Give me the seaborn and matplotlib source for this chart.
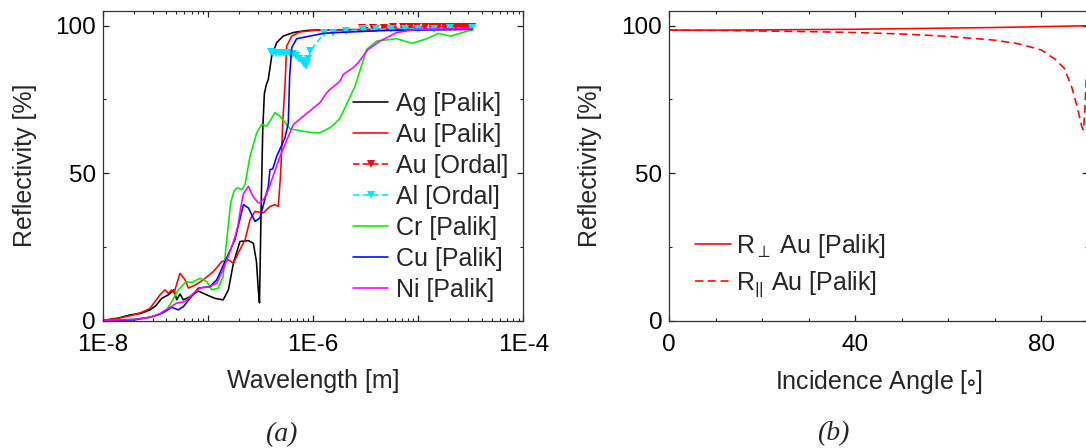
import numpy as np
import pandas as pd
import matplotlib
matplotlib.use("Agg")
import matplotlib.pyplot as plt
from matplotlib.ticker import MultipleLocator, LogLocator, FuncFormatter, NullFormatter
import seaborn as sns

# ---------------- data (wavelength in nm, reflectivity in %) ----------------
ag_wl = [10, 14, 18.2, 23, 28.2, 32, 36.5, 42.1, 47.7, 50.6, 54.4, 58.5, 67.7, 81.2, 97.6, 117, 140, 157, 175, 202, 243, 271, 290, 302, 310, 322, 333, 345, 360, 376, 405, 452, 522, 650, 871, 1165, 5000, 32700]
ag_r = [0, 0.8, 1.9, 2.4, 3.6, 5.0, 7.5, 8.7, 10.4, 7, 9, 7, 8.1, 10, 8.7, 7.5, 7, 10.4, 19.4, 26.8, 27.1, 26.2, 20, 10.4, 6, 40, 65, 77, 80, 81.8, 89.7, 94.3, 96.5, 97.7, 98.4, 98.6, 98.7, 98.8]

au_wl = [10, 14, 19.6, 24, 28.2, 35.1, 39.2, 42.1, 45.4, 47.7, 54.4, 60.7, 65.3, 75.6, 90.6, 113, 136, 157, 175, 202, 226, 252, 281, 337, 390, 435, 468, 493, 515, 542, 562, 628, 752, 1165, 5000, 32700]
au_r = [0, 0.7, 1.9, 2.9, 4.1, 8.7, 10.4, 9.2, 10.4, 9.3, 16, 13.8, 11, 12, 13.8, 16.6, 20, 20.6, 19.4, 24, 27.4, 34.2, 37, 36.5, 38.7, 39.3, 38.7, 50, 67, 80, 93.1, 96.5, 97.9, 98.6, 98.8, 99.0]

au_ordal_wl = [2920, 3710, 4680, 5780, 7200, 8400, 9800, 11600, 13400, 15400, 18000, 20500, 23000, 25600, 28000, 30000, 32400]
au_ordal_r = [99.3, 99.4, 99.4, 99.5, 99.5, 99.5, 99.6, 99.6, 99.6, 99.6, 99.7, 99.7, 99.7, 99.7, 99.7, 99.7, 99.7]

al_wl = [396, 420, 445, 470, 500, 530, 562, 600, 650, 690, 741, 780, 821, 852, 880, 902, 937, 1272, 1550, 2059, 3007, 4000, 5500, 7500, 10000, 14000, 20000, 32400]
al_r = [91.0, 90.9, 90.8, 90.8, 90.7, 90.6, 90.6, 90.5, 90.3, 89.7, 88.8, 88.0, 86.9, 86.3, 87.5, 88.6, 91.4, 97.4, 97.6, 98.2, 98.8, 98.8, 98.9, 99.0, 99.0, 99.0, 99.1, 99.1]

cr_wl = [10, 20, 28.2, 35, 40.7, 45.4, 52.4, 62.1, 70.3, 84.3, 97.6, 109, 126, 140, 150, 165, 178, 190, 210, 226, 252, 292, 325, 363, 435, 486, 605, 809, 1007, 1165, 1480, 1800, 2510, 3240, 4030, 6250, 8680, 12040, 15520, 20370, 32260]
cr_r = [0, 0.4, 1.1, 2.2, 3.6, 6.4, 10.4, 13.2, 12.9, 14.3, 13.2, 10.4, 11, 15, 26, 40, 44, 45, 44.4, 46.1, 55.7, 63.7, 66.5, 65.9, 70.5, 69.3, 65, 64.2, 63.7, 63.7, 65.6, 68.5, 79.5, 92, 94.8, 95.6, 94, 95.6, 97.4, 96.5, 98.6]

cu_wl = [10, 20, 28.2, 33, 37.8, 45.4, 52.4, 58.5, 67.7, 81.2, 105, 121.5, 145.7, 181, 218, 243, 281, 313, 376, 390, 414, 452, 542, 582, 600, 628, 700, 1253, 1680, 5000, 32700]
cu_r = [0, 0.2, 1.1, 1.8, 2.7, 4.5, 3.6, 4.7, 7.5, 11, 11.5, 13.8, 20, 27.4, 39.3, 38.2, 33.6, 34.8, 45.5, 51.2, 51.4, 55.7, 62, 67, 82.9, 92.6, 95.6, 97.4, 97.7, 98.4, 98.8]

ni_wl = [10, 20, 28.2, 35, 40.7, 50.6, 60.7, 72.8, 84.3, 105, 121.5, 140, 165, 180, 193, 205, 218, 243, 270, 300, 314, 345, 376, 486, 650, 809, 1165, 1350, 1451, 1806, 1941, 2415, 2695, 3240, 3355, 4335, 6250, 9676, 32260]
ni_r = [0, 0.4, 1.1, 2.3, 3.8, 5.9, 6.4, 9.2, 11, 11.5, 12.7, 17.2, 24, 28, 32, 38, 43, 45.5, 42, 40, 39.9, 41.5, 44.4, 55.7, 66.5, 69.3, 73.9, 77.3, 78.4, 81.2, 83.5, 85.8, 87.5, 91.4, 92, 94.8, 97.7, 98.8, 99]

# panel (b): incidence angle (deg) vs reflectivity (%)
ang_perp = [0, 10, 20, 30, 40, 50, 60, 70, 80, 85, 90]
r_perp = [98.5, 98.5, 98.6, 98.7, 98.8, 99.0, 99.2, 99.4, 99.7, 99.85, 100]
ang_par = [0, 10, 20, 30, 40, 50, 60, 70, 75, 80, 83, 85, 86.6, 87.7, 88.7, 89.1, 89.4, 89.7]
r_par = [98.5, 98.4, 98.2, 98.0, 97.7, 97.2, 96.4, 95.1, 93.9, 91.8, 88.6, 85.5, 79, 72.7, 66, 64.5, 72, 83]

labels_a = ["Ag [Palik]", "Au [Palik]", "Au [Ordal]", "Al [Ordal]", "Cr [Palik]", "Cu [Palik]", "Ni [Palik]"]
labels_b = [r"R$_{\perp}$ Au [Palik]", r"R$_{||}$ Au [Palik]"]

# ---------------- style ----------------
sns.set_style("ticks")
plt.rcParams["font.family"] = ["Liberation Sans", "DejaVu Sans"]
plt.rcParams["mathtext.fontset"] = "custom"
plt.rcParams["mathtext.rm"] = "Liberation Sans"
plt.rcParams["mathtext.it"] = "Liberation Sans"
plt.rcParams["mathtext.default"] = "regular"

FS_TICK = 17.5
FS_LAB = 18
FS_LEG = 18
W, H = 1086, 448
fig = plt.figure(figsize=(W / 100, H / 100), dpi=100)

def px_axes(l, t, r, b):
    return fig.add_axes([l / W, 1 - b / H, (r - l) / W, (b - t) / H])

ax1 = px_axes(102.6, 11, 523.4, 320.5)
ax2 = px_axes(669.3, 11, 1087.7, 320.5)

LW = 1.15
series = [
    (ag_wl, ag_r, "black", "-", None),
    (au_wl, au_r, "#ff0000", "-", None),
    (au_ordal_wl, au_ordal_r, "#ff0000", (0, (4, 2)), "v"),
    (al_wl, al_r, "#00e5ff", (0, (4, 2)), "v"),
    (cr_wl, cr_r, "#00ee00", "-", None),
    (cu_wl, cu_r, "#0000ff", "-", None),
    (ni_wl, ni_r, "#ff00ff", "-", None),
]
for (wl, r, c, ls, mk), lab in zip(series, labels_a):
    df = pd.DataFrame({"wl": np.array(wl) * 1e-9, "R": r})
    kw = dict(marker=mk, markersize=5.5, markeredgewidth=0) if mk else {}
    sns.lineplot(data=df, x="wl", y="R", ax=ax1, color=c, linestyle=ls, lw=LW,
                 label=lab, estimator=None, sort=False, **kw)

ax1.set_xscale("log")
ax1.set_xlim(1e-8, 1e-4)
ax1.set_ylim(0, 105)
ax1.xaxis.set_major_locator(LogLocator(base=10, numticks=10))
ax1.xaxis.set_minor_locator(LogLocator(base=10, subs=np.arange(2, 10), numticks=100))
ax1.xaxis.set_minor_formatter(NullFormatter())

def efmt(v, pos):
    e = int(round(np.log10(v)))
    return f"1E{e}" if e % 2 == 0 else ""
ax1.xaxis.set_major_formatter(FuncFormatter(efmt))
ax1.yaxis.set_major_locator(MultipleLocator(50))
ax1.yaxis.set_minor_locator(MultipleLocator(25))
ax1.set_xlabel("Wavelength [m]", fontsize=FS_LAB, labelpad=9)
ax1.set_ylabel("Reflectivity [%]", fontsize=FS_LAB, labelpad=13)

df_perp = pd.DataFrame({"ang": ang_perp, "R": r_perp})
df_par = pd.DataFrame({"ang": ang_par, "R": r_par})
sns.lineplot(data=df_perp, x="ang", y="R", ax=ax2, color="#ff0000", lw=LW, label=labels_b[0], estimator=None, sort=False)
sns.lineplot(data=df_par, x="ang", y="R", ax=ax2, color="#ff0000", lw=LW, linestyle=(0, (5, 3)), label=labels_b[1], estimator=None, sort=False)
ax2.set_xlim(0, 90)
ax2.set_ylim(0, 105)
ax2.xaxis.set_major_locator(MultipleLocator(40))
ax2.xaxis.set_minor_locator(MultipleLocator(10))
ax2.yaxis.set_major_locator(MultipleLocator(50))
ax2.yaxis.set_minor_locator(MultipleLocator(25))
ax2.set_xlabel(r"Incidence Angle [$\circ$]", fontsize=FS_LAB, labelpad=8)
ax2.set_ylabel("Reflectivity [%]", fontsize=FS_LAB, labelpad=14)

for ax in (ax1, ax2):
    ax.tick_params(which="both", direction="in", top=True, right=True, labelsize=FS_TICK, colors="#222222", labelcolor="black")
    ax.tick_params(which="major", length=4, width=0.9, pad=5)
    ax.tick_params(which="minor", length=2.2, width=0.8)
    ax.tick_params(axis="x", which="major", pad=10)
    for s in ax.spines.values():
        s.set_linewidth(0.9)
        s.set_color("#333333")

leg1 = ax1.legend(loc="upper left", bbox_to_anchor=(353 / W, 1 - 92 / H), bbox_transform=fig.transFigure,
                  frameon=False, fontsize=FS_LEG, handlelength=1.4, handletextpad=0.3,
                  labelspacing=0.28, borderpad=0, borderaxespad=0, numpoints=1)
leg2 = ax2.legend(loc="upper left", bbox_to_anchor=(695 / W, 1 - 232 / H), bbox_transform=fig.transFigure,
                  frameon=False, fontsize=FS_LEG, handlelength=1.45, handletextpad=0.2,
                  labelspacing=0.36, borderpad=0, borderaxespad=0)

fig.text(281 / W, 1 - 435 / H, "(a)", fontsize=20, family="Liberation Serif", style="italic", ha="center", va="center")
fig.text(833 / W, 1 - 434 / H, "(b)", fontsize=20, family="Liberation Serif", style="italic", ha="center", va="center")

fig.savefig("out.png", dpi=100)
